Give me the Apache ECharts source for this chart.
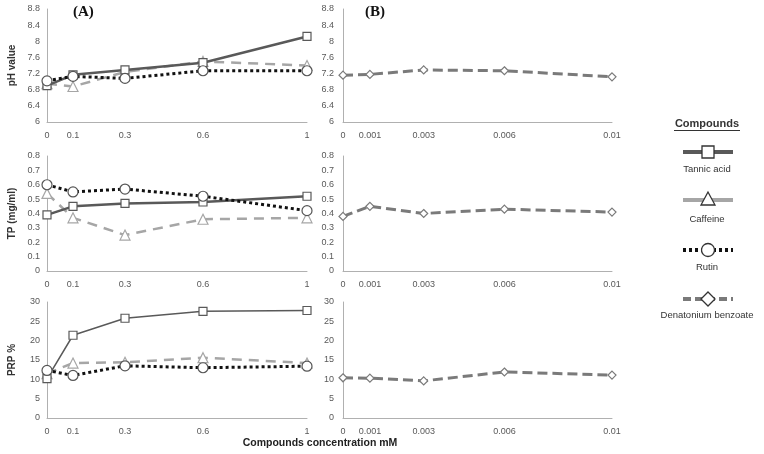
<!DOCTYPE html>
<html><head><meta charset="utf-8">
<script src="https://cdn.jsdelivr.net/npm/echarts@6/dist/echarts.min.js"></script>
<style>html,body{margin:0;padding:0;background:#fff}#c{width:764px;height:454px}</style>
</head><body><div id="c"></div>
<script>
// ---- Data ----
const xA = [0, 0.1, 0.3, 0.6, 1];
const xB = [0, 0.001, 0.003, 0.006, 0.01];
const seriesNames = ['Tannic acid', 'Caffeine', 'Rutin', 'Denatonium benzoate'];
// pH value
const phTannic = [6.9, 7.17, 7.29, 7.47, 8.12];
const phCaffeine = [6.95, 6.88, 7.24, 7.5, 7.4];
const phRutin = [7.02, 7.13, 7.08, 7.27, 7.27];
const phDenat = [7.16, 7.18, 7.29, 7.27, 7.12];
// TP (mg/ml)
const tpTannic = [0.39, 0.45, 0.47, 0.48, 0.52];
const tpCaffeine = [0.54, 0.37, 0.25, 0.36, 0.37];
const tpRutin = [0.6, 0.55, 0.57, 0.52, 0.42];
const tpDenat = [0.38, 0.45, 0.40, 0.43, 0.41];
// PRP %
const prpTannic = [10.2, 21.4, 25.8, 27.6, 27.8];
const prpCaffeine = [11.5, 14.2, 14.4, 15.6, 14.2];
const prpRutin = [12.3, 11.0, 13.5, 13.0, 13.4];
const prpDenat = [10.4, 10.3, 9.6, 11.9, 11.1];
// axis ticks
const phAxis = {min: 6, max: 8.8, interval: 0.4, name: 'pH value'};
const tpAxis = {min: 0, max: 0.8, interval: 0.1, name: 'TP (mg/ml)'};
const prpAxis = {min: 0, max: 30, interval: 5, name: 'PRP %'};
const xTitle = 'Compounds concentration mM';

// ---- Styles ----
const styles = {
  'Tannic acid': {color: '#595959', width: 2.5, type: 'solid', symbol: 'rect', size: 8},
  'Caffeine': {color: '#a6a6a6', width: 2.5, type: [10, 7], symbol: 'triangle', size: 10},
  'Rutin': {color: '#111111', width: 3, type: [3, 3], symbol: 'circle', size: 10},
  'Denatonium benzoate': {color: '#7a7a7a', width: 3, type: [10, 5], symbol: 'diamond', size: 8}
};
const labelFont = 'Liberation Sans, Arial, sans-serif';
const lblColor = '#595959';

const rows = [{top: 9, height: 113}, {top: 156, height: 115}, {top: 302, height: 116}];
const grids = [];
const xAxes = [];
const yAxes = [];
const series = [];
const yDefs = [phAxis, tpAxis, prpAxis];
const dataA = [[phTannic, phCaffeine, phRutin], [tpTannic, tpCaffeine, tpRutin], [prpTannic, prpCaffeine, prpRutin]];
const dataB = [phDenat, tpDenat, prpDenat];

function mkSeries(name, xs, ys, idx, widthOverride) {
  const s = styles[name];
  return {
    type: 'line', name, xAxisIndex: idx, yAxisIndex: idx,
    data: xs.map((x, i) => [x, ys[i]]),
    symbol: s.symbol, symbolSize: s.size, showSymbol: true,
    lineStyle: {color: s.color, width: widthOverride || s.width, type: s.type, cap: 'butt'},
    itemStyle: {color: '#ffffff', borderColor: name === 'Rutin' ? '#555' : s.color, borderWidth: 1.2},
    z: name === 'Rutin' ? 4 : 3,
    animation: false
  };
}

rows.forEach((r, ri) => {
  ['A', 'B'].forEach((p, pi) => {
    const idx = grids.length;
    grids.push({left: p === 'A' ? 47 : 343, width: p === 'A' ? 260 : 269, top: r.top, height: r.height});
    const xs = p === 'A' ? xA : xB;
    xAxes.push({
      type: 'value', gridIndex: idx, min: 0, max: xs[xs.length - 1],
      splitLine: {show: false}, axisTick: {show: false},
      axisLine: {lineStyle: {color: '#b0b0b0', width: 1}},
      axisLabel: {customValues: xs, color: lblColor, fontSize: 9, fontFamily: labelFont, margin: 9,
        formatter: v => String(v)},
      name: (ri === 2 && p === 'A') ? '' : ''
    });
    const yd = yDefs[ri];
    yAxes.push({
      type: 'value', gridIndex: idx, min: yd.min, max: yd.max, interval: yd.interval,
      splitLine: {show: false}, axisTick: {show: false},
      axisLine: {show: true, lineStyle: {color: '#b0b0b0', width: 1}},
      axisLabel: {color: lblColor, fontSize: 9, fontFamily: labelFont, margin: p === 'A' ? 7 : 9},
      name: p === 'A' ? yd.name : '', nameLocation: 'middle', nameRotate: 90, nameGap: 30,
      nameTextStyle: {fontWeight: 'bold', fontSize: 10, color: '#333', fontFamily: labelFont}
    });
    if (p === 'A') {
      const d = dataA[ri];
      series.push(mkSeries('Caffeine', xA, d[1], idx));
      series.push(mkSeries('Tannic acid', xA, d[0], idx, ri === 2 ? 1.5 : 2.5));
      series.push(mkSeries('Rutin', xA, d[2], idx));
    } else {
      series.push(mkSeries('Denatonium benzoate', xB, dataB[ri], idx));
    }
  });
});

// ---- Legend (custom graphic) ----
const lgX = 708;
const legendItems = [
  {name: seriesNames[0], y: 152, ty: 169},
  {name: seriesNames[1], y: 200, ty: 219},
  {name: seriesNames[2], y: 250, ty: 267},
  {name: seriesNames[3], y: 299, ty: 315}
];
const graphic = [
  {type: 'text', left: 73, top: 5, style: {text: '(A)', font: 'bold 15px "Liberation Serif", serif', fill: '#111'}},
  {type: 'text', left: 365, top: 5, style: {text: '(B)', font: 'bold 15px "Liberation Serif", serif', fill: '#111'}},
  {type: 'text', x: 320, y: 443, style: {text: xTitle, font: 'bold 10.5px "Liberation Sans", Arial, sans-serif', fill: '#222', align: 'center', verticalAlign: 'middle'}},
  {type: 'text', x: 707, y: 124, style: {text: 'Compounds', font: 'bold 11px "Liberation Sans", Arial, sans-serif', fill: '#333', align: 'center', verticalAlign: 'middle'}},
  {type: 'line', shape: {x1: 674, y1: 130.5, x2: 740, y2: 130.5}, style: {stroke: '#333', lineWidth: 1}}
];
legendItems.forEach(it => {
  const s = styles[it.name];
  const lineType = it.name === 'Rutin' ? [3, 3] : (it.name === 'Tannic acid' || it.name === 'Caffeine' ? null : [8, 4]);
  graphic.push({type: 'line', shape: {x1: lgX - 25, y1: it.y, x2: lgX + 25, y2: it.y},
    style: {stroke: s.color, lineWidth: 4, lineDash: lineType}, z: 10});
  let shape;
  if (s.symbol === 'rect') shape = {type: 'rect', shape: {x: lgX - 6, y: it.y - 6, width: 12, height: 12}};
  else if (s.symbol === 'triangle') shape = {type: 'polygon', shape: {points: [[lgX, it.y - 8], [lgX - 7, it.y + 5], [lgX + 7, it.y + 5]]}};
  else if (s.symbol === 'circle') shape = {type: 'circle', shape: {cx: lgX, cy: it.y, r: 6.5}};
  else shape = {type: 'polygon', shape: {points: [[lgX, it.y - 7], [lgX + 7, it.y], [lgX, it.y + 7], [lgX - 7, it.y]]}};
  shape.style = {fill: '#fff', stroke: '#333', lineWidth: 1.3};
  shape.z = 11;
  graphic.push(shape);
  graphic.push({type: 'text', x: lgX - 1, y: it.ty, style: {text: it.name, font: '9.5px "Liberation Sans", Arial, sans-serif', fill: '#333', align: 'center', verticalAlign: 'middle'}, z: 11});
});

const chart = echarts.init(document.getElementById('c'), null, {renderer: 'canvas'});
chart.setOption({
  backgroundColor: '#fff',
  animation: false,
  grid: grids, xAxis: xAxes, yAxis: yAxes, series,
  graphic
});
</script></body></html>
